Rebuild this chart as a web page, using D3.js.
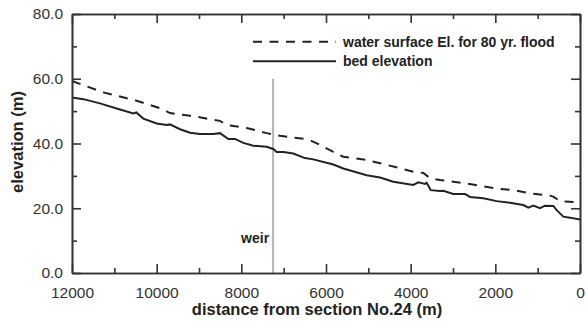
<!DOCTYPE html>
<html>
<head>
<meta charset="utf-8">
<script src="https://cdn.jsdelivr.net/npm/d3@7"></script>
<style>
  html, body { margin: 0; padding: 0; background: #fff; }
  svg { display: block; font-family: "Liberation Sans", Arial, sans-serif; }
</style>
</head>
<body>
<svg id="chart" width="586" height="325"></svg>
<script>
// ---- data ----
const bedDistance = [12000, 11732, 11339, 10945, 10551, 10480, 10315, 9999, 9763, 9685, 9449, 9213, 8976, 8662, 8504, 8307, 8150, 7953, 7717, 7402, 7245, 7165, 7008, 6772, 6500, 6300, 5827, 5591, 5039, 4724, 4410, 3938, 3820, 3661, 3622, 3527, 3307, 3229, 2993, 2717, 2598, 2284, 1968, 1654, 1339, 1221, 1103, 945, 827, 631, 550, 394, 236, 0];
const bedElevation = [54.2, 53.7, 52.4, 50.8, 49.3, 49.6, 47.7, 46.2, 45.7, 45.9, 44.4, 43.3, 42.9, 42.9, 43.2, 41.4, 41.4, 40.2, 39.3, 39.0, 38.3, 37.4, 37.4, 36.9, 35.5, 35.1, 33.5, 32.3, 30.2, 29.5, 28.2, 27.2, 28.0, 27.5, 27.9, 25.6, 25.3, 25.4, 24.4, 24.4, 23.5, 23.1, 22.2, 21.7, 21.0, 20.2, 20.8, 20.0, 20.8, 20.7, 19.4, 17.4, 17.1, 16.5];

const wsDistance = [12000, 11260, 10472, 9921, 9685, 9213, 8504, 8346, 7873, 7402, 7087, 6772, 6536, 6378, 6142, 5827, 5591, 5039, 4567, 3938, 3701, 3543, 3307, 2757, 1968, 1575, 1181, 709, 631, 472, 0];
const wsElevation = [59.3, 55.8, 53.2, 50.9, 49.4, 48.6, 47.0, 45.7, 44.8, 43.2, 42.4, 41.8, 41.5, 41.0, 39.6, 37.4, 35.9, 34.9, 33.4, 31.3, 30.9, 29.3, 28.7, 27.8, 26.1, 25.6, 24.6, 23.9, 23.6, 22.2, 21.8];

const xTicks = [12000, 10000, 8000, 6000, 4000, 2000, 0];
const xMinorTicks = [11000, 9000, 7000, 5000, 3000, 1000];
const yTicks = [0, 20, 40, 60, 80];
const yMinorTicks = [10, 30, 50, 70];

const weirDistance = 7250;
const weirTop = 60;

const legendLabels = ["water surface El. for 80 yr. flood", "bed elevation"];
const xTitle = "distance from section No.24 (m)";
const yTitle = "elevation (m)";
const weirLabel = "weir";

// ---- layout ----
const margin = { left: 72, right: 6, top: 14, bottom: 52 };
const W = 586, H = 325;
const x = d3.scaleLinear().domain([12000, 0]).range([margin.left, W - margin.right]);
const y = d3.scaleLinear().domain([0, 80]).range([H - margin.bottom, margin.top]);

const svg = d3.select("#chart");
const axisColor = "#333";
const lineColor = "#222";

// weir line (drawn below curves)
svg.append("line")
  .attr("x1", x(weirDistance)).attr("x2", x(weirDistance))
  .attr("y1", y(weirTop)).attr("y2", y(0))
  .attr("stroke", "#b4b4b4").attr("stroke-width", 2);

svg.append("text")
  .attr("x", x(weirDistance) - 4).attr("y", y(9.2))
  .attr("text-anchor", "end")
  .attr("font-size", 14).attr("font-weight", "bold").attr("fill", "#222")
  .text(weirLabel);

// curves
const line = d3.line().x(d => x(d[0])).y(d => y(d[1]));
svg.append("path")
  .datum(wsDistance.map((d, i) => [d, wsElevation[i]]))
  .attr("d", line).attr("fill", "none")
  .attr("stroke", lineColor).attr("stroke-width", 2)
  .attr("stroke-dasharray", "9,7.5");
svg.append("path")
  .datum(bedDistance.map((d, i) => [d, bedElevation[i]]))
  .attr("d", line).attr("fill", "none")
  .attr("stroke", lineColor).attr("stroke-width", 2);

// axes
function styleAxis(g) {
  g.selectAll("path.domain").attr("stroke", axisColor).attr("stroke-width", 1.6);
  g.selectAll(".tick line").attr("stroke", axisColor).attr("stroke-width", 1.6);
  g.selectAll(".tick text").attr("fill", axisColor)
    .attr("font-family", "Liberation Sans, Arial, sans-serif").attr("font-size", 15.5);
}

const gBottom = svg.append("g").attr("transform", `translate(0,${y(0)})`)
  .call(d3.axisBottom(x).tickValues(xTicks).tickSizeInner(-9).tickSizeOuter(0).tickPadding(13.5).tickFormat(d3.format("d")));
styleAxis(gBottom);
const gBottomMinor = svg.append("g").attr("transform", `translate(0,${y(0)})`)
  .call(d3.axisBottom(x).tickValues(xMinorTicks).tickSizeInner(-5).tickSizeOuter(0).tickFormat(""));
styleAxis(gBottomMinor);

const gTop = svg.append("g").attr("transform", `translate(0,${y(80)})`)
  .call(d3.axisTop(x).tickValues(xTicks).tickSizeInner(-9).tickSizeOuter(0).tickFormat(""));
styleAxis(gTop);
const gTopMinor = svg.append("g").attr("transform", `translate(0,${y(80)})`)
  .call(d3.axisTop(x).tickValues(xMinorTicks).tickSizeInner(-5).tickSizeOuter(0).tickFormat(""));
styleAxis(gTopMinor);

const gLeft = svg.append("g").attr("transform", `translate(${x(12000)},0)`)
  .call(d3.axisLeft(y).tickValues(yTicks).tickSizeInner(-9).tickSizeOuter(0).tickPadding(9).tickFormat(d3.format(".1f")));
styleAxis(gLeft);
const gLeftMinor = svg.append("g").attr("transform", `translate(${x(12000)},0)`)
  .call(d3.axisLeft(y).tickValues(yMinorTicks).tickSizeInner(-5).tickSizeOuter(0).tickFormat(""));
styleAxis(gLeftMinor);

const gRight = svg.append("g").attr("transform", `translate(${x(0)},0)`)
  .call(d3.axisRight(y).tickValues(yTicks).tickSizeInner(-9).tickSizeOuter(0).tickFormat(""));
styleAxis(gRight);
const gRightMinor = svg.append("g").attr("transform", `translate(${x(0)},0)`)
  .call(d3.axisRight(y).tickValues(yMinorTicks).tickSizeInner(-5).tickSizeOuter(0).tickFormat(""));
styleAxis(gRightMinor);

// axis titles
svg.append("text")
  .attr("x", 317).attr("y", 315)
  .attr("text-anchor", "middle")
  .attr("font-size", 16.5).attr("font-weight", "bold").attr("fill", "#222")
  .text(xTitle);
svg.append("text")
  .attr("transform", `translate(23,${142}) rotate(-90)`)
  .attr("text-anchor", "middle")
  .attr("font-size", 16.5).attr("font-weight", "bold").attr("fill", "#222")
  .text(yTitle);

// legend
const legend = svg.append("g");
const legendY = [41.7, 61.3];
legend.append("line").attr("x1", 253).attr("x2", 336).attr("y1", legendY[0]).attr("y2", legendY[0])
  .attr("stroke", lineColor).attr("stroke-width", 2).attr("stroke-dasharray", "9,7.5");
legend.append("line").attr("x1", 253).attr("x2", 336).attr("y1", legendY[1]).attr("y2", legendY[1])
  .attr("stroke", lineColor).attr("stroke-width", 2);
legendLabels.forEach((t, i) => {
  legend.append("text")
    .attr("x", 343).attr("y", legendY[i] + 5)
    .attr("font-size", 14).attr("font-weight", "bold").attr("fill", "#222")
    .text(t);
});
</script>
</body>
</html>
